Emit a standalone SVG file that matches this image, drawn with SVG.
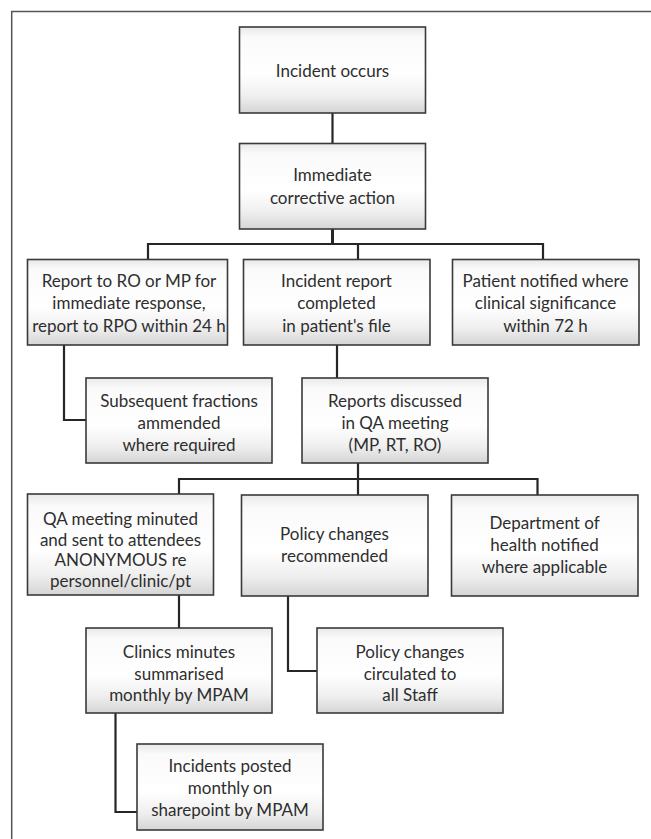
<svg xmlns="http://www.w3.org/2000/svg" width="651" height="839" viewBox="0 0 651 839">
<style>
.box{fill:url(#g);stroke:#3a3a3a;stroke-width:1.6}
.t{font-family:Lato,"Open Sans","Liberation Sans",sans-serif;font-size:17px;fill:#2e2e2e;text-anchor:middle}
.c{fill:none;stroke:#262626;stroke-width:2.2}
.frame{fill:none;stroke:#555;stroke-width:1.5}
</style>
<defs>
<linearGradient id="g" x1="0" y1="0" x2="0" y2="1">
<stop offset="0" stop-color="#e9e9e9"/>
<stop offset="0.12" stop-color="#fafafa"/>
<stop offset="0.55" stop-color="#ffffff"/>
<stop offset="0.8" stop-color="#efefef"/>
<stop offset="1" stop-color="#d5d5d5"/>
</linearGradient>
</defs>
<path class="frame" d="M11.7,839 V11.5 H651"/>
<g id="connectors">
<path class="c" d="M332.5,113 V143.5"/>
<path class="c" style="stroke-width:3" d="M332.5,229 V244"/>
<path class="c" d="M148,259.5 V244 H543 V259.5 M358,244 V259.5"/>
<path class="c" d="M64,345 V420 H86"/>
<path class="c" d="M337,345 V378"/>
<path class="c" d="M358,463 V495"/>
<path class="c" d="M179,494 V479 H537.5 V495"/>
<path class="c" d="M179,595 V628"/>
<path class="c" d="M288,596 V671 H317"/>
<path class="c" d="M115.5,713 V812 H137"/>
</g>
<g id="n1"><rect class="box" x="239.5" y="27" width="186" height="86"/>
<text class="t" x="332.5" y="76.5">Incident occurs</text></g>
<g id="n2"><rect class="box" x="239.5" y="143.5" width="186" height="85.5"/>
<text class="t" x="332.5" y="181">Immediate</text>
<text class="t" x="332.5" y="203.5">corrective action</text></g>
<g id="n3"><rect class="box" x="27.5" y="259.5" width="200" height="85.5"/>
<text class="t" x="129" y="286.5">Report to RO or MP for</text>
<text class="t" x="129" y="309">immediate response,</text>
<text class="t" x="129" y="331.5">report to RPO within 24 h</text></g>
<g id="n4"><rect class="box" x="243.5" y="259.5" width="186.5" height="85.5"/>
<text class="t" x="336.5" y="286.5">Incident report</text>
<text class="t" x="336.5" y="309">completed</text>
<text class="t" x="336.5" y="331.5">in patient's file</text></g>
<g id="n5"><rect class="box" x="452.5" y="259.5" width="186.5" height="85.5"/>
<text class="t" x="545.5" y="286.5">Patient notified where</text>
<text class="t" x="545.5" y="309">clinical significance</text>
<text class="t" x="545.5" y="331.5">within 72 h</text></g>
<g id="n6"><rect class="box" x="86" y="378" width="186" height="85"/>
<text class="t" x="179" y="406.5">Subsequent fractions</text>
<text class="t" x="179" y="429">ammended</text>
<text class="t" x="179" y="451">where required</text></g>
<g id="n7"><rect class="box" x="302" y="378" width="186" height="85"/>
<text class="t" x="395" y="406.5">Reports discussed</text>
<text class="t" x="395" y="429">in QA meeting</text>
<text class="t" x="395" y="451">(MP, RT, RO)</text></g>
<g id="n8"><rect class="box" x="27.5" y="494" width="186" height="101"/>
<text class="t" x="120.5" y="525">QA meeting minuted</text>
<text class="t" x="120.5" y="545.5">and sent to attendees</text>
<text class="t" x="120.5" y="566">ANONYMOUS re</text>
<text class="t" x="120.5" y="586.5">personnel/clinic/pt</text></g>
<g id="n9"><rect class="box" x="241.5" y="495" width="186.5" height="101"/>
<text class="t" x="334.5" y="540">Policy changes</text>
<text class="t" x="334.5" y="562">recommended</text></g>
<g id="n10"><rect class="box" x="451.5" y="495" width="186.5" height="101"/>
<text class="t" x="544.5" y="528.5">Department of</text>
<text class="t" x="544.5" y="550.5">health notified</text>
<text class="t" x="544.5" y="572.5">where applicable</text></g>
<g id="n11"><rect class="box" x="86" y="628" width="186" height="85"/>
<text class="t" x="179" y="657.5">Clinics minutes</text>
<text class="t" x="179" y="679.5">summarised</text>
<text class="t" x="179" y="701">monthly by MPAM</text></g>
<g id="n12"><rect class="box" x="317" y="628" width="186" height="85"/>
<text class="t" x="410" y="657.5">Policy changes</text>
<text class="t" x="410" y="679.5">circulated to</text>
<text class="t" x="410" y="701">all Staff</text></g>
<g id="n13"><rect class="box" x="137" y="744" width="186" height="86"/>
<text class="t" x="230" y="772">Incidents posted</text>
<text class="t" x="230" y="794">monthly on</text>
<text class="t" x="230" y="816">sharepoint by MPAM</text></g>
</svg>
